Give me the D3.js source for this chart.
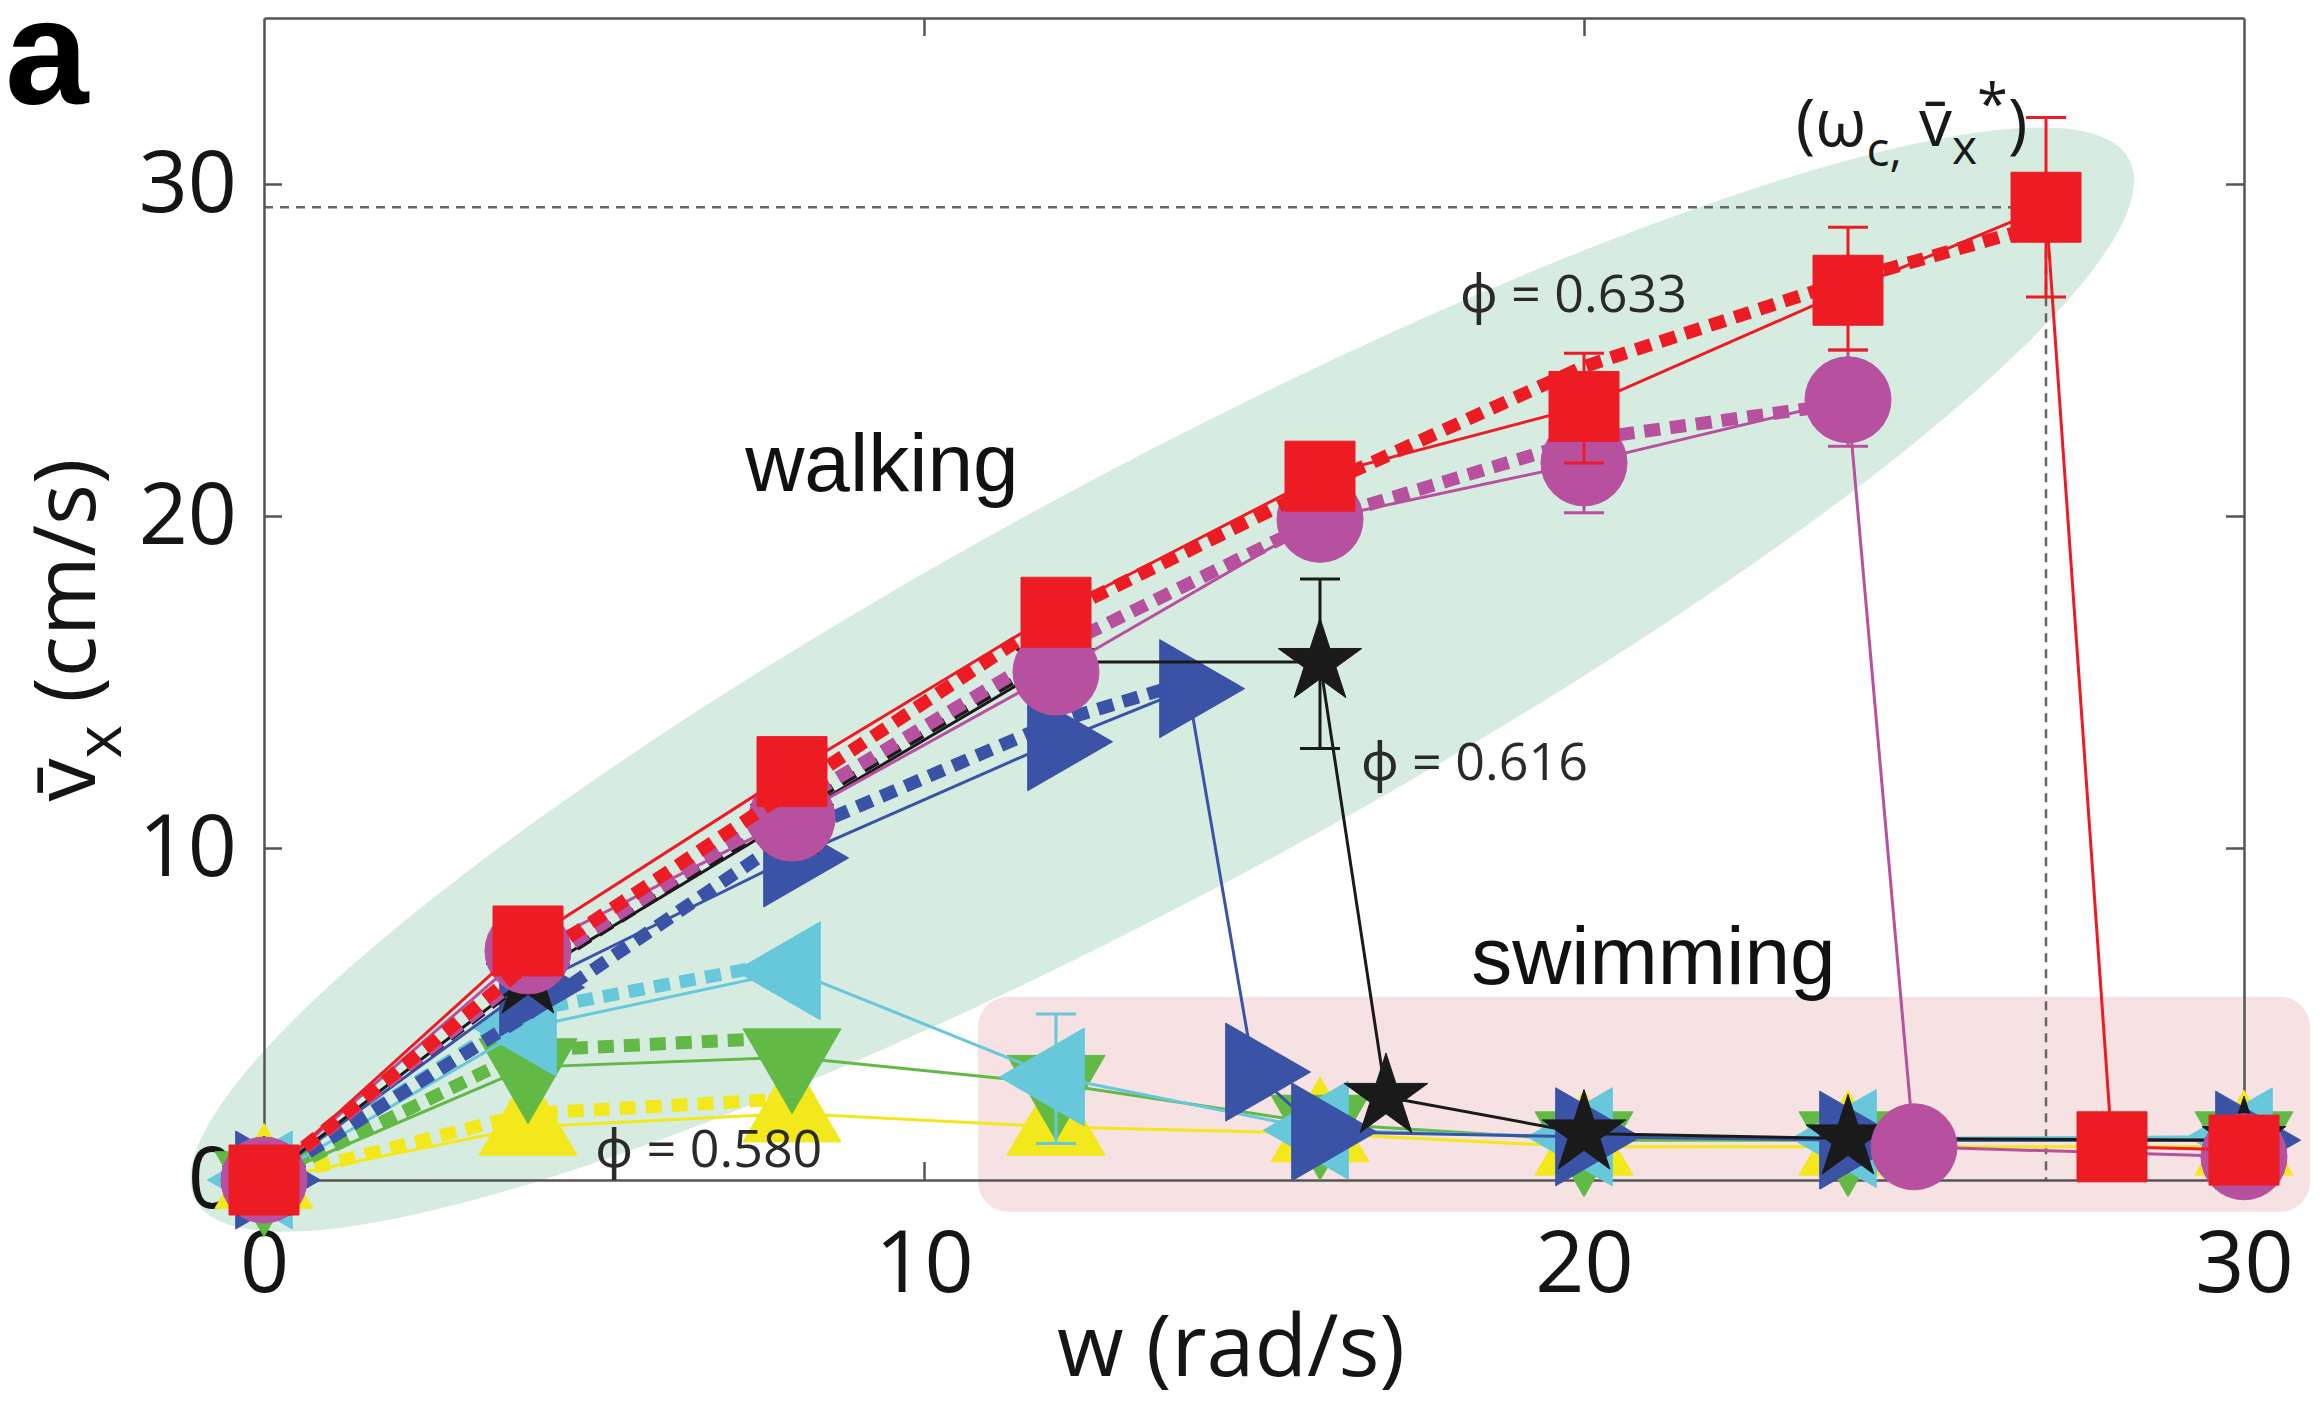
<!DOCTYPE html>
<html>
<head>
<meta charset="utf-8">
<script src="https://cdn.jsdelivr.net/npm/d3@7"></script>
<style>
  body { margin: 0; background: #fff; }
</style>
</head>
<body>
<div id="chart-area"></div>
<script>
// values: w in rad/s, mean speed in cm/s
// solid = experiment, dashed = simulation
const wRed = [0, 4, 8, 12, 16, 20, 24, 27, 28, 30];
const vRed = [0, 7.2, 12.3, 17.1, 21.2, 23.3, 26.8, 29.3, 1.0, 0.9];
const wRedSim = [0, 4, 8, 12, 16, 20, 24, 27];
const vRedSim = [0, 6.5, 11.75, 17.0, 20.9, 24.5, 27.1, 28.8];
const errRed = [[20, 21.6, 24.9], [24, 25.0, 28.7], [27, 26.6, 32.0]];

const wMag = [0, 4, 8, 12, 16, 20, 24, 25, 30];
const vMag = [0, 6.9, 10.9, 15.3, 19.9, 21.6, 23.5, 1.0, 0.7];
const wMagSim = [0, 4, 8, 12, 16, 20, 24];
const vMagSim = [0, 6.3, 11.3, 16.0, 19.9, 22.3, 23.4];
const errMag = [[20, 20.1, 23.1], [24, 22.1, 25.0]];

const wBlk = [0, 4, 8, 12, 16, 17, 20, 24, 30];
const vBlk = [0, 6.1, 10.9, 15.6, 15.6, 2.5, 1.4, 1.25, 1.2];
const wBlkSim = [0, 4, 8, 12];
const vBlkSim = [0, 6.1, 11.1, 15.8];
const errBlk = [[16, 13.0, 18.1]];

const wBlu = [0, 4, 8, 12, 14, 15, 16, 20, 24, 30];
const vBlu = [0, 5.8, 9.7, 13.2, 14.8, 3.25, 1.45, 1.3, 1.2, 1.2];
const wBluSim = [0, 4, 8, 12, 14];
const vBluSim = [0, 5.0, 10.4, 13.8, 15.0];

const wLow = [0, 4, 8, 12, 16, 20, 24, 30];
const wLowSim = [0, 4, 8];
const vCya = [0, 4.6, 6.3, 3.1, 1.5, 1.3, 1.25, 1.3];
const vCyaSim = [0, 5.1, 6.6];
const errCya = [[12, 1.1, 5.0]];
const vGrn = [0, 3.4, 3.7, 2.9, 1.7, 1.2, 1.2, 1.2];
const vGrnSim = [0, 3.9, 4.3];
const vYel = [0, 1.6, 2.0, 1.6, 1.4, 1.0, 1.0, 1.0];
const vYelSim = [0, 2.0, 2.45];

// critical point (omega_c, v*)
const wCrit = 27, vCrit = 29.3;

const xTicks = [0, 10, 20, 30];
const yTicks = [0, 10, 20, 30];

const svgW = 2323, svgH = 1405;
let margin = {left: 264, right: 79, top: 18, bottom: 225};
let width = svgW - margin.left - margin.right;
let height = svgH - margin.top - margin.bottom;

const myriad = "'Open Sans', 'Noto Sans', 'DejaVu Sans', sans-serif";
const helv = "'Liberation Sans', Arial, sans-serif";

let svg = d3.select("#chart-area")
  .append("svg")
  .attr("width", svgW)
  .attr("height", svgH);

let g = svg.append("g")
  .attr("transform", "translate(" + margin.left + "," + margin.top + ")");

let x = d3.scaleLinear().domain([0, 30]).range([0, width]);
let y = d3.scaleLinear().domain([0, 35]).range([height, 0]);

// walking region (ellipse) and swimming region (rounded box)
g.append("ellipse")
  .attr("rx", 1098)
  .attr("ry", 209)
  .attr("transform", "translate(" + x(13.61) + "," + y(15.07) + ") rotate(-28.3)")
  .attr("fill", "#d7ece1");

g.append("rect")
  .attr("x", x(10.82))
  .attr("y", y(5.52))
  .attr("width", x(31.0) - x(10.82))
  .attr("height", y(-0.96) - y(5.52))
  .attr("rx", 30)
  .attr("fill", "#f6e2e2");

// dotted guides to the critical point
g.append("path")
  .attr("d", "M" + x(0) + "," + y(vCrit) + "H" + x(wCrit) + "V" + y(0))
  .attr("fill", "none")
  .attr("stroke", "#666")
  .attr("stroke-width", 2.5)
  .attr("stroke-dasharray", "9,7");

// axes, ticks inside on all four sides
function styleAxis(sel) {
  sel.selectAll(".domain").attr("stroke", "#555").attr("stroke-width", 2.5);
  sel.selectAll(".tick line").attr("stroke", "#555").attr("stroke-width", 2.5);
  sel.selectAll(".tick text")
    .attr("font-family", myriad)
    .attr("font-size", 86)
    .attr("fill", "#151515");
}

g.append("g")
  .attr("transform", "translate(0," + height + ")")
  .call(d3.axisBottom(x).tickValues(xTicks).tickSizeInner(-18).tickSizeOuter(0).tickPadding(51))
  .call(styleAxis);

g.append("g")
  .call(d3.axisLeft(y).tickValues(yTicks).tickSizeInner(-18).tickSizeOuter(0).tickPadding(27))
  .call(styleAxis);

g.append("g")
  .call(d3.axisTop(x).tickValues([10, 20]).tickSizeInner(-18).tickSizeOuter(0).tickFormat(""))
  .call(styleAxis);

g.append("g")
  .attr("transform", "translate(" + width + ",0)")
  .call(d3.axisRight(y).tickValues([10, 20, 30]).tickSizeInner(-18).tickSizeOuter(0).tickFormat(""))
  .call(styleAxis);

// series, drawn bottom to top
const series = [
  {w: wLow, v: vYel, ws: wLowSim, vs: vYelSim, err: [], color: "#f2e81c", shape: "up", dw: 13},
  {w: wLow, v: vGrn, ws: wLowSim, vs: vGrnSim, err: [], color: "#62b946", shape: "down", dw: 13},
  {w: wLow, v: vCya, ws: wLowSim, vs: vCyaSim, err: errCya, color: "#66c8da", shape: "left", dw: 13},
  {w: wBlu, v: vBlu, ws: wBluSim, vs: vBluSim, err: [], color: "#3a53a6", shape: "right", dw: 13},
  {w: wBlk, v: vBlk, ws: wBlkSim, vs: vBlkSim, err: errBlk, color: "#1a1a1a", shape: "star", dw: 8},
  {w: wMag, v: vMag, ws: wMagSim, vs: vMagSim, err: errMag, color: "#b7509f", shape: "circle", dw: 13},
  {w: wRed, v: vRed, ws: wRedSim, vs: vRedSim, err: errRed, color: "#ed1c24", shape: "square", dw: 13}
];

const triSize = 4162;
const shapes = {
  square: {path: d3.symbol(d3.symbolSquare, 4900)(), rot: 0},
  circle: {path: d3.symbol(d3.symbolCircle, 5809)(), rot: 0},
  star: {path: d3.symbol(d3.symbolStar, 2173)(), rot: 0},
  up: {path: d3.symbol(d3.symbolTriangle, triSize)(), rot: 0},
  down: {path: d3.symbol(d3.symbolTriangle, triSize)(), rot: 180},
  left: {path: d3.symbol(d3.symbolTriangle, triSize)(), rot: -90},
  right: {path: d3.symbol(d3.symbolTriangle, triSize)(), rot: 90}
};

let line = d3.line()
  .x(d => x(d[0]))
  .y(d => y(d[1]));

series.forEach(s => {
  let sg = g.append("g");
  let sim = s.ws.map((w, i) => [w, s.vs[i]]);
  let pts = s.w.map((w, i) => [w, s.v[i]]);

  sg.append("path")
    .attr("d", line(sim))
    .attr("fill", "none")
    .attr("stroke", s.color)
    .attr("stroke-width", s.dw)
    .attr("stroke-dasharray", "16,10");

  sg.append("path")
    .attr("d", line(pts))
    .attr("fill", "none")
    .attr("stroke", s.color)
    .attr("stroke-width", 3);

  s.err.forEach(e => {
    let cx = x(e[0]);
    sg.append("path")
      .attr("d", "M" + cx + "," + y(e[1]) + "V" + y(e[2]) +
        "M" + (cx - 20) + "," + y(e[1]) + "H" + (cx + 20) +
        "M" + (cx - 20) + "," + y(e[2]) + "H" + (cx + 20))
      .attr("fill", "none")
      .attr("stroke", s.color)
      .attr("stroke-width", 3);
  });

  sg.selectAll(".mk")
    .data(pts)
    .enter()
    .append("path")
    .attr("class", "mk")
    .attr("d", shapes[s.shape].path)
    .attr("transform", d => "translate(" + x(d[0]) + "," + y(d[1]) + ") rotate(" + shapes[s.shape].rot + ")")
    .attr("fill", s.color)
    .attr("stroke", s.color)
    .attr("stroke-width", 1);
});

// region labels
g.append("text")
  .attr("x", x(7.29)).attr("y", y(20.74))
  .attr("font-family", helv).attr("font-size", 82).attr("fill", "#111")
  .text("walking");

g.append("text")
  .attr("x", x(18.29)).attr("y", y(5.9))
  .attr("font-family", helv).attr("font-size", 82).attr("fill", "#111")
  .text("swimming");

// volume fraction labels
const phiLabels = [["\u03d5 = 0.633", 18.12, 26.14], ["\u03d5 = 0.616", 16.62, 12.06], ["\u03d5 = 0.580", 5.02, 0.39]];
phiLabels.forEach(p => {
  g.append("text")
    .attr("x", x(p[1])).attr("y", y(p[2]))
    .attr("font-family", myriad).attr("font-size", 52).attr("fill", "#2a2a2a")
    .text(p[0]);
});

// critical point label
let crit = g.append("text")
  .attr("x", x(23.21)).attr("y", y(31.14))
  .attr("font-family", myriad).attr("font-size", 66).attr("fill", "#1a1a1a");
crit.append("tspan").text("(\u03c9");
crit.append("tspan").attr("font-size", 48).attr("dy", 20).text("c,");
crit.append("tspan").attr("dy", -20).text(" v\u0304");
crit.append("tspan").attr("font-size", 48).attr("dy", 18).text("x");
crit.append("tspan").attr("font-size", 56).attr("dy", -40).text("*");
crit.append("tspan").attr("dy", 22).text(")");

// axis titles
svg.append("text")
  .attr("x", 1231).attr("y", 1376)
  .attr("text-anchor", "middle")
  .attr("font-family", myriad).attr("font-size", 86).attr("fill", "#151515")
  .text("w (rad/s)");

let yl = svg.append("text")
  .attr("transform", "translate(95,630) rotate(-90)")
  .attr("text-anchor", "middle")
  .attr("font-family", myriad).attr("font-size", 86).attr("fill", "#151515");
yl.append("tspan").text("v\u0304");
yl.append("tspan").attr("font-size", 64).attr("dy", 26).text("x");
yl.append("tspan").attr("dy", -26).text(" (cm/s)");

// panel letter
svg.append("text")
  .attr("x", 5).attr("y", 104)
  .attr("font-family", helv).attr("font-weight", "bold").attr("font-size", 150)
  .attr("fill", "#000")
  .text("a");
</script>
</body>
</html>
